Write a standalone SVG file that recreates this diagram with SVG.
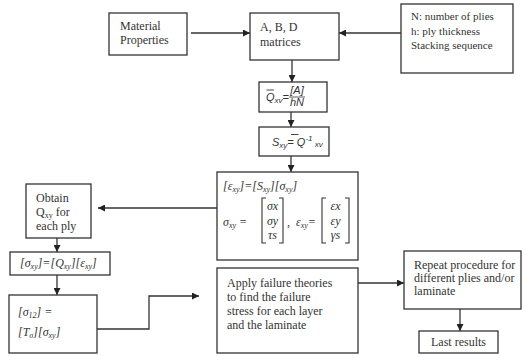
<svg xmlns="http://www.w3.org/2000/svg" width="525" height="356" viewBox="0 0 525 356">
<style>
.box{fill:#fff;stroke:#333;stroke-width:1.3}
.t{font-family:"Liberation Serif",serif;font-size:12px;fill:#333}
.s{font-size:11px}
.i{font-style:italic}
.m{font-family:"Liberation Sans",sans-serif;font-style:italic;font-size:11px;fill:#333}
.c{fill:none;stroke:#333;stroke-width:1.3}
.br{fill:none;stroke:#333;stroke-width:1.1}
.sub{font-size:8px}
</style>
<defs>
<marker id="ah" viewBox="0 0 10 10" refX="10" refY="5" markerWidth="7" markerHeight="7" orient="auto" markerUnits="userSpaceOnUse"><path d="M0,0 L10,5 L0,10 z" fill="#222"/></marker>
</defs>
<rect width="525" height="356" fill="#fff"/>
<g id="connectors">
<line class="c" x1="191" y1="33" x2="250" y2="33" marker-end="url(#ah)"/>
<line class="c" x1="401" y1="33" x2="339" y2="33" marker-end="url(#ah)"/>
<line class="c" x1="292" y1="60" x2="292" y2="82" marker-end="url(#ah)"/>
<line class="c" x1="291" y1="112" x2="291" y2="127" marker-end="url(#ah)"/>
<line class="c" x1="291" y1="156" x2="291" y2="172" marker-end="url(#ah)"/>
<line class="c" x1="217" y1="208" x2="98" y2="208" marker-end="url(#ah)"/>
<line class="c" x1="57" y1="238" x2="57" y2="252" marker-end="url(#ah)"/>
<line class="c" x1="57" y1="275" x2="57" y2="295" marker-end="url(#ah)"/>
<polyline class="c" points="97,329 149,329 149,296 199,296" marker-end="url(#ah)"/>
<line class="c" x1="358" y1="283" x2="404" y2="283" marker-end="url(#ah)"/>
<line class="c" x1="460" y1="309" x2="460" y2="331" marker-end="url(#ah)"/>
</g>
<g id="material">
<rect class="box" x="109" y="13" width="78" height="42"/>
<text class="t" x="120" y="30">Material</text>
<text class="t" x="120" y="44">Properties</text>
</g>
<g id="abd">
<rect class="box" x="250" y="13" width="89" height="47"/>
<text class="t" x="260" y="31">A, B, D</text>
<text class="t" x="260" y="46">matrices</text>
</g>
<g id="plies">
<rect class="box" x="401" y="4" width="112" height="69"/>
<text class="t s" x="411" y="20">N: number of plies</text>
<text class="t s" x="411" y="35">h: ply thickness</text>
<text class="t s" x="411" y="49">Stacking sequence</text>
</g>
<g id="qbar">
<rect class="box" x="259" y="82" width="68" height="30"/>
<text class="m" x="266" y="101">Q<tspan class="sub" dy="2">xv</tspan><tspan dy="-2">=</tspan></text>
<line x1="266.5" y1="90" x2="274" y2="90" stroke="#333" stroke-width="0.9"/>
<text class="m" x="297" y="94" text-anchor="middle" font-size="9">[A]</text>
<line x1="289" y1="97" x2="305" y2="97" stroke="#333" stroke-width="0.8"/>
<text class="m" x="297" y="106" text-anchor="middle" font-size="9">hN</text>
</g>
<g id="sxy">
<rect class="box" x="259" y="127" width="70" height="29"/>
<text class="m" x="272" y="146">S<tspan class="sub" dy="2">xy</tspan><tspan dy="-2">= Q</tspan><tspan class="sub" dy="-5">-1</tspan><tspan class="sub" dy="6"> xv</tspan></text>
<line x1="291" y1="134.5" x2="298.5" y2="134.5" stroke="#333" stroke-width="0.9"/>
</g>
<g id="strain">
<rect class="box" x="217" y="172" width="141" height="88"/>
<text class="t i" x="223" y="190">[ε<tspan class="sub" dy="2">xy</tspan><tspan dy="-2">]=[S</tspan><tspan class="sub" dy="2">xy</tspan><tspan dy="-2">][σ</tspan><tspan class="sub" dy="2">xy</tspan><tspan dy="-2">]</tspan></text>
<text class="t i" x="223" y="226" font-size="13">σ<tspan class="sub" dy="2">xy</tspan><tspan dy="-2"> =</tspan></text>
<path class="br" d="M266,198 h-4 v45 h4 M279,198 h4 v45 h-4"/>
<text class="t i" x="272.5" y="210" text-anchor="middle" font-size="12.5">σx</text>
<text class="t i" x="272.5" y="225" text-anchor="middle" font-size="12.5">σy</text>
<text class="t i" x="272.5" y="239" text-anchor="middle" font-size="12.5">τs</text>
<text class="t i" x="287" y="226">,</text>
<text class="t i" x="296" y="226">ε<tspan class="sub" dy="2">xy</tspan><tspan dy="-2">=</tspan></text>
<path class="br" d="M326,198 h-4 v45 h4 M345,198 h4 v45 h-4"/>
<text class="t i" x="335.5" y="210" text-anchor="middle" font-size="12.5">εx</text>
<text class="t i" x="335.5" y="225" text-anchor="middle" font-size="12.5">εy</text>
<text class="t i" x="335.5" y="239" text-anchor="middle" font-size="12.5">γs</text>
</g>
<g id="obtain">
<rect class="box" x="26" y="184" width="65" height="54"/>
<text class="t" x="36" y="202">Obtain</text>
<text class="t" x="36" y="216">Q<tspan class="sub" dy="2">xy</tspan><tspan dy="-2"> for</tspan></text>
<text class="t" x="36" y="230">each ply</text>
</g>
<g id="stress">
<rect class="box" x="10" y="252" width="100" height="23"/>
<text class="t i" x="20" y="267">[σ<tspan class="sub" dy="2">xy</tspan><tspan dy="-2">]=[Q</tspan><tspan class="sub" dy="2">xy</tspan><tspan dy="-2">][ε</tspan><tspan class="sub" dy="2">xy</tspan><tspan dy="-2">]</tspan></text>
</g>
<g id="sigma12">
<rect class="box" x="9" y="295" width="88" height="58"/>
<text class="t i" x="18" y="316">[σ<tspan class="sub" dy="2">12</tspan><tspan dy="-2">] =</tspan></text>
<text class="t i" x="18" y="336">[T<tspan class="sub" dy="2">σ</tspan><tspan dy="-2">][σ</tspan><tspan class="sub" dy="2">xy</tspan><tspan dy="-2">]</tspan></text>
</g>
<g id="apply">
<rect class="box" x="217" y="268" width="141" height="85"/>
<text class="t" x="227" y="287">Apply failure theories</text>
<text class="t" x="227" y="301">to find the failure</text>
<text class="t" x="227" y="315">stress for each layer</text>
<text class="t" x="227" y="329">and the laminate</text>
</g>
<g id="repeat">
<rect class="box" x="404" y="251" width="117" height="58"/>
<text class="t" x="414" y="269">Repeat procedure for</text>
<text class="t" x="414" y="282">different plies and/or</text>
<text class="t" x="414" y="295">laminate</text>
</g>
<g id="last">
<rect class="box" x="419" y="331" width="79" height="22"/>
<text class="t" x="458.5" y="346" text-anchor="middle">Last results</text>
</g>
</svg>
